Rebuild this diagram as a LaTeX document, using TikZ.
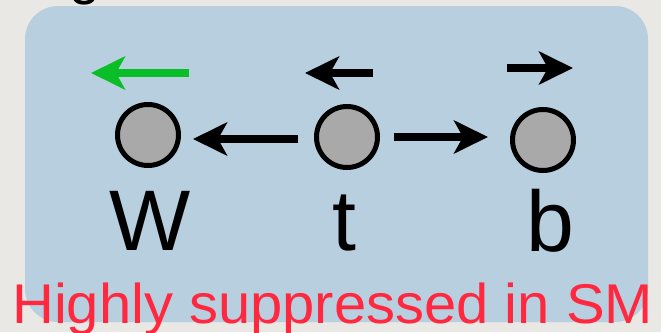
\documentclass[tikz,border=0pt]{standalone}
\usepackage{fontspec}
\setmainfont{Liberation Sans}
\usetikzlibrary{arrows.meta}
\definecolor{fond}{RGB}{233,232,228}
\definecolor{cadre}{RGB}{184,207,224}
\definecolor{bille}{RGB}{169,169,169}
\definecolor{vert}{RGB}{10,190,40}
\definecolor{rouge}{RGB}{255,40,62}
\tikzset{
  part/.style = {circle, draw, line width=5pt, fill=bille, minimum size=61pt, inner sep=0pt},
  lettre/.style = {anchor=base, font=\fontsize{86}{86}\selectfont},
  fleche/.style = {line width=8pt, -{Stealth[length=34pt, width=33pt, inset=9pt]}}
}
\begin{document}
\begin{tikzpicture}[x=1pt, y=-1pt]
	 \clip (0,0) rectangle (661,332);
	 \fill[fond] (0,0) rectangle (661,332);
	 \fill[cadre, rounded corners=33pt] (25,6) rectangle (648,322);
	 \node (g) at (85,5) [anchor=south, inner sep=0pt, font=\fontsize{56}{56}\selectfont] {g};
	 \node (W) at (148,135) [part] {};
	 \node (t) at (347,137) [part] {};
	 \node (b) at (543,140) [part] {};
	 \node (lW) at (150,250) [lettre] {W};
	 \node (lt) at (344,250) [lettre] {t};
	 \node (lb) at (550,251) [lettre] {b};
	 \draw[fleche, shorten <=16pt, shorten >=12pt] ([yshift=-2pt]t.west) -- ([yshift=-2pt]t.west -| W.east);
	 \draw[fleche, shorten <=14pt, shorten >=22pt] (t.east) -- (t.east -| b.west);
	 \coordinate (vW1) at (189,73); \coordinate (vW2) at (91,73);
	 \coordinate (vt1) at (373,73); \coordinate (vt2) at (305,73);
	 \coordinate (vb1) at (507,68); \coordinate (vb2) at (573,68);
	 \draw[fleche, vert] (vW1) -- (vW2);
	 \draw[fleche] (vt1) -- (vt2) ;
	 \draw[fleche] (vb1) -- (vb2);
	 \node (sm) at (12,323) [anchor=base west, inner sep=0pt, xscale=1.035, text=rouge, font=\fontsize{56}{56}\selectfont] {Highly suppressed in SM};
\end{tikzpicture}
\end{document}
